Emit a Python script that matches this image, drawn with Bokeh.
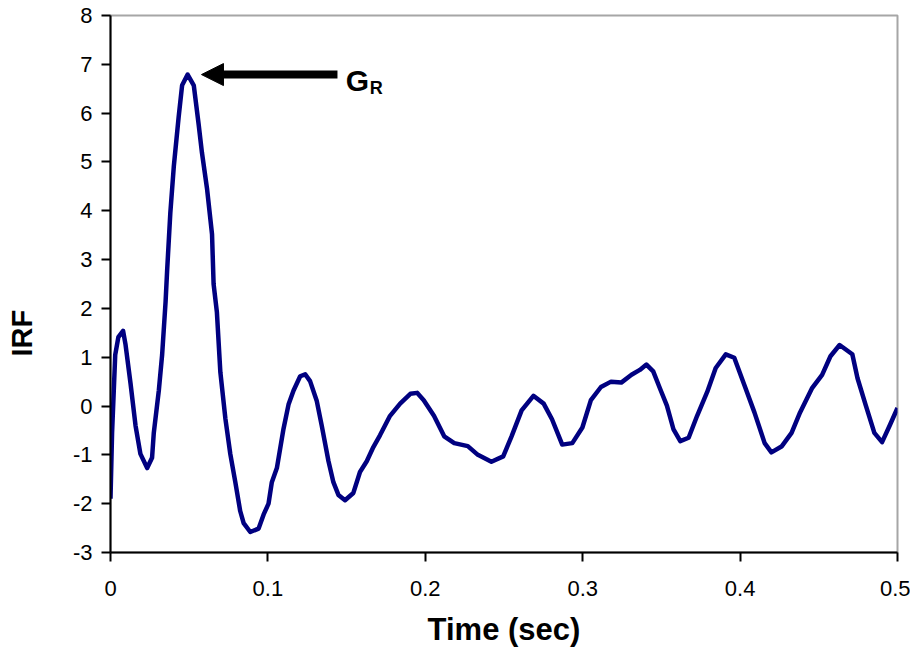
import math
from bokeh.plotting import figure
from bokeh.models import Range1d, FixedTicker, Label, Arrow, NormalHead, ColumnDataSource, Title
from bokeh.embed import file_html
from bokeh.resources import INLINE

# ---- data ----
time_s = [0, 0.001, 0.003, 0.005, 0.008, 0.0095, 0.0127, 0.0159, 0.019, 0.0233,
          0.0264, 0.0275, 0.0307, 0.0328, 0.035, 0.036, 0.038, 0.0402, 0.0433, 0.0455,
          0.049, 0.0529, 0.056, 0.0581, 0.0613, 0.0645, 0.0655, 0.0676, 0.0698, 0.073,
          0.0761, 0.0793, 0.0824, 0.0846, 0.0888, 0.0941, 0.0973, 0.1004, 0.1025, 0.1057,
          0.1099, 0.1131, 0.1163, 0.1205, 0.1237, 0.1268, 0.131, 0.1342, 0.1385, 0.1416,
          0.1448, 0.149, 0.1543, 0.1585, 0.1628, 0.167, 0.1712, 0.1776, 0.184, 0.1905,
          0.1948, 0.199, 0.2055, 0.212, 0.2184, 0.227, 0.2334, 0.242, 0.2495, 0.2548,
          0.2612, 0.2687, 0.2752, 0.2805, 0.287, 0.2934, 0.2998, 0.3052, 0.3116, 0.318,
          0.3245, 0.331, 0.3363, 0.3405, 0.3448, 0.3491, 0.3535, 0.3577, 0.362, 0.3673,
          0.3727, 0.3791, 0.3845, 0.3909, 0.3963, 0.4027, 0.4091, 0.4156, 0.4199, 0.4263,
          0.4327, 0.4381, 0.4456, 0.4521, 0.4574, 0.4632, 0.4713, 0.4746, 0.4799, 0.4853,
          0.4902, 0.4949, 0.5]
irf = [-1.90, -0.55, 1.05, 1.41, 1.54, 1.27, 0.47, -0.40, -0.98, -1.27,
       -1.06, -0.55, 0.32, 1.05, 2.14, 2.79, 3.95, 4.90, 5.92, 6.57,
       6.79, 6.57, 5.77, 5.19, 4.46, 3.52, 2.50, 1.92, 0.69, -0.26,
       -0.98, -1.56, -2.15, -2.40, -2.58, -2.51, -2.22, -2.00, -1.56, -1.27,
       -0.47, 0.03, 0.32, 0.61, 0.65, 0.51, 0.11, -0.40, -1.13, -1.56,
       -1.82, -1.93, -1.78, -1.35, -1.13, -0.84, -0.60, -0.20, 0.05, 0.25,
       0.27, 0.12, -0.20, -0.62, -0.76, -0.82, -1.00, -1.14, -1.03, -0.62,
       -0.09, 0.21, 0.05, -0.27, -0.79, -0.76, -0.44, 0.12, 0.39, 0.50,
       0.48, 0.64, 0.74, 0.85, 0.71, 0.36, 0.01, -0.48, -0.72, -0.65,
       -0.20, 0.29, 0.78, 1.06, 0.99, 0.43, -0.13, -0.76, -0.95, -0.83,
       -0.55, -0.13, 0.36, 0.64, 1.02, 1.25, 1.06, 0.57, 0.01, -0.55,
       -0.74, -0.41, -0.04]

x_ticks = [0, 0.1, 0.2, 0.3, 0.4, 0.5]
x_tick_labels = ["0", "0.1", "0.2", "0.3", "0.4", "0.5"]
y_ticks = [-3, -2, -1, 0, 1, 2, 3, 4, 5, 6, 7, 8]
y_tick_labels = ["-3", "-2", "-1", "0", "1", "2", "3", "4", "5", "6", "7", "8"]

x_title = "Time (sec)"
y_title = "IRF"
peak_label_main = "G"
peak_label_sub = "R"

FONT = "Liberation Sans"

p = figure(width=910, height=649, output_backend="svg", toolbar_location=None,
           x_range=Range1d(0, 0.5), y_range=Range1d(-3, 8),
           min_border_left=110, min_border_right=13, min_border_top=15,
           min_border_bottom=97, background_fill_color="white",
           border_fill_color="white")

p.xgrid.visible = False
p.ygrid.visible = False
p.outline_line_color = "#a6a6a6"
p.outline_line_width = 2

src = ColumnDataSource(dict(t=time_s, v=irf))
p.line("t", "v", source=src, line_color="#000080", line_width=4.5, line_join="round")

# axes
for ax in (p.xaxis[0], p.yaxis[0]):
    ax.axis_line_color = "black"
    ax.axis_line_width = 2
    ax.major_tick_line_color = "black"
    ax.major_tick_line_width = 2
    ax.major_tick_in = 0
    ax.major_tick_out = 9
    ax.minor_tick_line_color = None
    ax.major_label_text_font = FONT
    ax.major_label_text_font_size = "22px"
    ax.major_label_text_color = "black"

p.xaxis.ticker = FixedTicker(ticks=x_ticks)
p.xaxis.major_label_overrides = {t: l for t, l in zip(x_ticks, x_tick_labels)}
p.xaxis.major_label_standoff = 19
p.xaxis.axis_label = x_title
p.xaxis.axis_label_text_font = FONT
p.xaxis.axis_label_text_font_style = "bold"
p.xaxis.axis_label_text_font_size = "31px"
p.xaxis.axis_label_text_color = "black"
p.xaxis.axis_label_standoff = 13

p.yaxis.ticker = FixedTicker(ticks=y_ticks)
p.yaxis.major_label_overrides = {t: l for t, l in zip(y_ticks, y_tick_labels)}
p.yaxis.major_label_standoff = 9
# blank spacer label so the y title sits further out
p.yaxis.axis_label = " "
p.yaxis.axis_label_text_font_size = "10px"
p.yaxis.axis_label_standoff = 14

# y title (sits below the centre of the axis in the reference)
p.add_layout(Title(text=y_title, align="left", offset=196, standoff=7,
                   text_font=FONT, text_font_style="bold", text_font_size="29px",
                   text_color="black"), "left")

# G_R annotation with arrow
p.add_layout(Arrow(end=NormalHead(size=22, fill_color="black", line_color="black", line_width=1),
                   x_start=0.1442, y_start=6.79, x_end=0.0578, y_end=6.79,
                   line_color="black", line_width=8))
p.add_layout(Label(x=0.1494, y=6.67, text=peak_label_main, text_font=FONT,
                   text_font_style="bold", text_font_size="30px", text_color="black",
                   text_baseline="middle"))
p.add_layout(Label(x=0.1647, y=6.505, text=peak_label_sub, text_font=FONT,
                   text_font_style="bold", text_font_size="18px", text_color="black",
                   text_baseline="middle"))

open("out.html", "w").write(file_html(p, INLINE))
